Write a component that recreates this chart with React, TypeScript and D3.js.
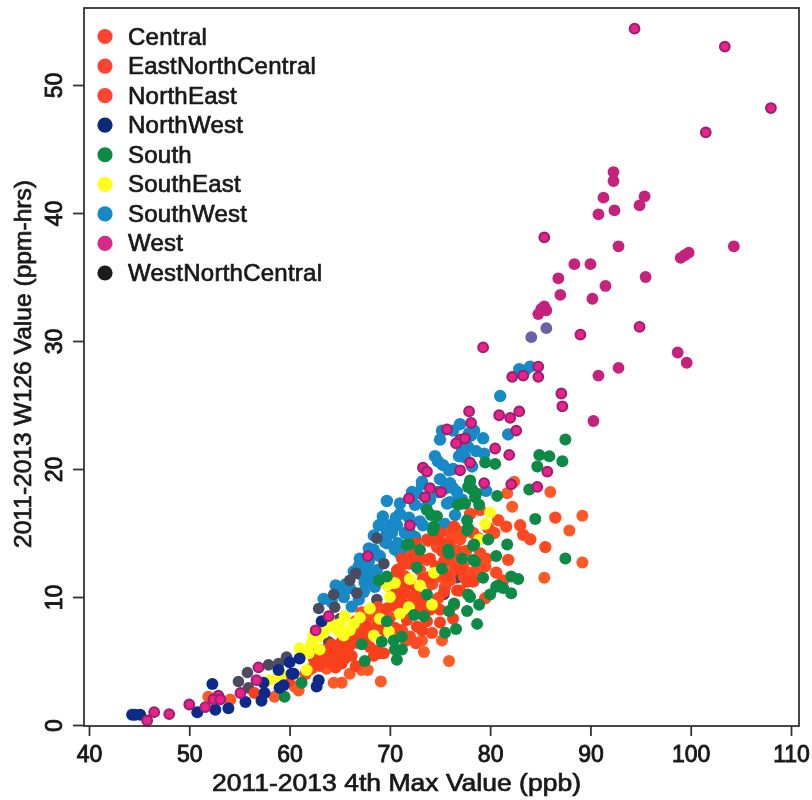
import React, { useEffect, useRef } from 'react';
import { select, scaleLinear, scalePoint, axisBottom, axisLeft } from 'd3';

type Pt = [number, number];

const legendNames = ['Central', 'EastNorthCentral', 'NorthEast', 'NorthWest', 'South', 'SouthEast', 'SouthWest', 'West', 'WestNorthCentral'];
const legendColors = ['#ff4530', '#ff4530', '#ff4530', '#0b2a78', '#0f8a45', '#ffff1e', '#1489c6', '#d92a8c', '#1c1c1c'];
const xTicks = [40, 50, 60, 70, 80, 90, 100, 110];
const yTicks = [0, 10, 20, 30, 40, 50];

const central: Pt[] = [
  [89.2, 16.35], [89.2, 12.7], [87.9, 15.2], [86.0, 18.2], [85.4, 11.5], [82.4, 19.0], [81.7, 18.1], [82.2, 17.05],
  [69.1, 3.4], [75.9, 5.0], [73.4, 5.7], [75.2, 6.6], [73.2, 6.6], [51.9, 2.2], [54.1, 2.0], [60.9, 2.7], [60.5, 3.0], [58.5, 2.2],
  [64.4, 3.3], [65.2, 3.3], [67.2, 4.3], [67.8, 4.3], [66.0, 4.0], [63.7, 4.4],
];
const eastNorthCentral: Pt[] = [
  [62.7, 5.6], [63.4, 5.1], [64.5, 5.2], [65.0, 5.7], [65.7, 5.9], [65.2, 4.8], [69.0, 5.6], [69.4, 5.6], [66.5, 6.9], [67.2, 7.0],
  [68.0, 6.1], [68.7, 5.8], [65.7, 6.6], [64.7, 6.1], [64.0, 5.6], [69.7, 9.1], [70.5, 9.3], [71.5, 10.3], [71.0, 10.8], [72.4, 9.9],
  [72.9, 10.0], [70.7, 12.1], [71.4, 12.6], [72.4, 13.3], [73.7, 14.5], [75.0, 15.0], [76.4, 15.5], [74.0, 13.0], [75.7, 11.6],
  [77.0, 12.1], [77.7, 11.2], [78.4, 11.3], [76.7, 10.5], [75.0, 9.0], [73.7, 8.1], [72.7, 7.7], [73.2, 7.4], [69.4, 7.4], [68.7, 7.7],
  [67.7, 7.7], [70.5, 7.6], [71.7, 8.2], [73.0, 9.2], [76.3, 8.3], [75.0, 8.0], [75.4, 10.4], [59.9, 3.4], [56.5, 2.5],
  [62.4, 5.2], [63.0, 4.6], [63.9, 4.9], [64.6, 4.5], [65.5, 5.2], [66.2, 5.4], [64.2, 6.3], [65.2, 6.5], [66.0, 6.2], [63.6, 5.9],
  [66.8, 6.4], [67.5, 6.6], [68.4, 5.4], [66.6, 4.6], [70.2, 10.2], [70.8, 9.8], [71.4, 9.4], [72.2, 9.0], [72.7, 8.8], [73.5, 9.6],
  [74.0, 9.0], [71.0, 11.4], [71.8, 11.0], [72.5, 10.8], [73.3, 11.4], [74.0, 11.6], [74.6, 12.4], [75.4, 12.8], [73.0, 13.0],
  [74.5, 14.6], [75.4, 14.2], [76.0, 14.0], [75.2, 13.6], [72.0, 12.6], [71.2, 13.0], [72.6, 14.2],
];
const northEast: Pt[] = [
  [78.0, 16.5], [79.0, 16.8], [80.8, 16.0], [81.6, 15.5], [83.0, 15.6], [83.3, 14.85], [84.0, 14.5], [76.7, 15.2], [76.0, 15.0], [78.3, 15.0],
  [77.0, 14.5], [79.0, 13.4], [76.3, 12.6], [77.3, 12.4], [78.2, 11.9], [79.5, 12.4], [80.6, 11.9], [81.3, 11.3], [78.3, 11.2], [76.0, 11.8],
  [75.5, 10.8], [77.0, 10.5], [79.5, 9.9], [81.8, 12.9], [85.5, 13.9], [86.5, 16.2], [73.8, 14.4], [74.7, 13.9], [72.2, 13.3], [71.0, 12.2],
  [70.5, 11.6], [71.5, 11.6], [73.7, 12.9], [76.3, 14.7], [77.3, 15.0], [76.5, 12.9], [75.0, 11.6], [73.0, 12.1], [76.0, 11.3], [71.0, 10.3], [72.2, 10.0],
  [74.2, 11.0], [70.0, 8.4], [71.2, 7.4], [72.0, 6.9], [74.2, 7.2], [68.2, 8.5], [67.2, 8.8], [66.6, 8.1], [61.6, 4.0], [62.2, 4.4],
  [79.8, 15.4], [80.4, 15.0], [78.8, 14.6], [79.6, 13.0], [78.8, 12.2], [77.6, 13.6], [76.8, 13.6], [77.4, 11.6], [76.4, 9.4], [74.8, 9.9],
  [70.2, 9.8], [69.2, 8.8], [68.8, 9.2], [67.6, 8.4], [72.6, 6.4], [71.6, 6.6], [70.6, 7.0], [68.0, 7.4], [67.0, 7.6],
];
const northWest: Pt[] = [
  [44.3, 0.8], [44.6, 0.8], [45.1, 0.8], [50.8, 1.0], [52.3, 3.2], [52.6, 1.2], [53.9, 1.3], [55.6, 1.8], [57.2, 1.9], [57.5, 2.5], [57.4, 3.3],
  [59.0, 2.9], [58.9, 4.3], [60.2, 4.0], [60.0, 4.9], [61.0, 5.2], [62.9, 3.5], [62.7, 3.0], [63.2, 8.1], [60.4, 4.0], [59.4, 3.1],
];
const south: Pt[] = [
  [87.5, 22.3], [84.9, 21.1], [85.9, 21.0], [87.2, 20.6], [84.7, 20.2], [79.5, 20.5], [80.5, 20.4], [83.9, 18.4], [80.7, 17.9], [84.5, 16.1],
  [81.7, 14.1], [87.5, 13.0], [80.6, 13.2], [82.8, 11.4], [82.1, 11.6], [77.8, 15.4], [79.8, 14.5], [78.3, 14.0], [78.3, 12.9], [79.3, 11.5],
  [80.6, 10.8], [78.0, 19.1], [78.5, 17.8], [77.3, 17.3], [80.8, 10.9], [81.3, 10.7], [82.1, 10.3], [77.8, 10.2], [80.0, 10.2], [75.8, 13.7], [77.2, 13.0],
  [59.5, 2.2], [61.2, 3.3], [67.2, 6.3], [67.5, 5.0], [69.2, 6.5], [70.4, 6.6], [71.2, 6.9], [70.5, 5.9], [71.2, 5.9], [70.7, 5.1], [69.7, 8.1],
  [73.7, 10.2], [71.9, 14.1], [72.7, 12.3], [73.0, 13.7], [75.2, 12.2], [75.9, 13.4], [78.0, 10.0], [78.4, 14.1], [77.7, 15.2], [74.4, 15.5],
  [76.4, 9.5], [75.9, 8.9], [73.4, 8.5], [72.4, 8.6], [75.5, 7.2], [76.6, 7.5], [77.7, 8.9], [78.7, 7.9], [69.7, 11.6], [68.9, 11.3], [78.5, 12.8],
  [73.7, 16.8], [74.7, 16.3], [74.3, 15.2], [71.7, 14.1], [76.8, 17.2], [77.7, 16.0], [78.6, 18.1], [78.0, 19.0], [77.5, 17.3],
  [78.2, 18.4], [78.9, 17.2], [77.8, 18.6], [74.1, 16.4], [78.9, 9.4],
];
const southEast: Pt[] = [
  [62.2, 6.4], [61.9, 5.6], [59.2, 3.9], [61.7, 4.3], [64.2, 7.7], [65.5, 8.5], [66.4, 7.9], [65.4, 7.0], [68.0, 9.1], [69.0, 8.3], [69.9, 7.3],
  [68.4, 7.0], [70.0, 10.0], [69.7, 10.9], [70.5, 11.1], [72.0, 11.4], [73.0, 10.9], [74.4, 11.9], [71.9, 9.2], [71.0, 8.7], [74.2, 9.4],
  [78.9, 14.5], [63.0, 5.9], [64.9, 7.3], [59.0, 3.8], [58.0, 3.5], [62.9, 6.9], [61.5, 5.8], [80.0, 16.6], [79.5, 15.7],
  [63.4, 7.2], [64.0, 8.1], [62.4, 7.0], [65.0, 7.9], [66.0, 7.4], [67.0, 8.4], [61.0, 6.0],
];
const southWest: Pt[] = [
  [82.9, 27.8], [84.0, 28.0], [83.5, 27.7], [81.0, 25.7], [81.8, 22.7], [79.3, 22.4], [79.4, 21.2], [79.6, 18.3],
  [77.0, 23.5], [75.0, 22.3], [75.2, 23.0], [78.1, 22.6], [77.8, 21.7], [77.5, 20.9], [74.5, 21.0], [75.3, 20.3], [76.3, 20.0], [75.0, 19.2],
  [76.0, 18.9], [73.2, 19.0], [72.2, 18.2], [72.7, 18.1], [72.5, 17.2], [69.7, 17.5], [71.0, 17.3], [71.0, 16.5], [76.7, 18.2], [76.0, 17.4],
  [76.8, 17.6], [70.0, 15.6], [70.7, 15.6], [75.5, 15.7], [76.5, 16.4], [73.3, 15.6], [70.2, 15.0], [68.4, 14.8], [68.4, 13.7], [69.5, 14.3],
  [71.2, 13.5], [72.5, 14.6], [73.0, 15.9], [75.7, 17.3], [76.3, 18.5], [77.2, 17.6], [72.5, 18.1], [73.2, 18.8], [78.2, 20.2], [78.6, 21.4],
  [63.4, 9.85], [66.0, 10.7], [65.4, 10.0], [66.9, 9.8], [66.2, 9.25], [66.9, 12.4], [67.7, 12.1], [68.7, 12.1], [67.5, 11.1], [68.5, 10.8],
  [67.9, 13.8], [68.7, 13.3], [69.7, 14.2], [70.5, 13.7], [71.0, 13.4], [72.5, 14.7], [69.7, 15.0], [64.2, 9.6],
  [68.9, 15.6], [69.3, 16.3], [70.6, 16.2], [71.5, 15.0], [71.9, 16.2], [72.0, 15.0], [70.8, 14.2], [69.0, 13.2], [67.0, 13.0], [66.4, 12.0],
  [67.2, 11.7], [65.6, 11.0], [65.0, 10.7], [64.6, 10.9], [73.6, 17.0], [74.0, 17.6], [74.8, 18.2], [75.6, 18.5], [75.9, 19.9], [74.8, 20.6],
  [77.2, 21.4], [77.9, 22.8], [76.3, 23.0], [76.9, 21.0], [78.4, 23.0], [67.4, 10.4], [67.9, 12.8], [68.2, 11.6],
];
const west: Pt[] = [
  [92.3, 43.2], [92.3, 42.5], [91.3, 41.2], [92.4, 40.2], [90.8, 39.9], [95.4, 41.3], [94.9, 40.6], [92.8, 37.4], [104.3, 37.4], [99.8, 36.9],
  [99.4, 36.7], [99.0, 36.5], [88.4, 36.0], [90.0, 36.0], [86.8, 34.9], [95.5, 35.0], [91.5, 34.3], [87.0, 33.6], [90.2, 33.3], [85.4, 32.7],
  [85.6, 32.4], [84.8, 32.1], [85.1, 32.5], [98.7, 29.1], [99.6, 28.3], [92.8, 27.9], [90.8, 27.3], [90.3, 23.75],
];
const westRinged: Pt[] = [
  [94.4, 54.4], [103.4, 53.0], [108.0, 48.2], [101.5, 46.3], [85.4, 38.1], [89.0, 30.5], [94.9, 31.1], [79.3, 29.5], [87.1, 25.9], [87.2, 24.9],
  [84.8, 28.0], [84.8, 27.2], [82.2, 27.2], [83.3, 27.3], [77.9, 24.5], [78.1, 23.6], [80.9, 24.2], [82.0, 24.0], [82.9, 24.5], [82.6, 23.0],
  [80.5, 21.6], [81.9, 21.1], [78.0, 20.5], [85.7, 19.8], [79.4, 18.9], [82.1, 18.8], [84.7, 18.6], [75.7, 23.1], [77.0, 22.3], [76.6, 22.0],
  [77.5, 22.4], [77.0, 19.9], [73.3, 20.1], [73.7, 19.8], [74.0, 18.5], [75.1, 18.2], [71.9, 17.7], [73.5, 17.8], [72.0, 15.6], [67.8, 13.2],
  [45.8, 0.35], [46.5, 1.0], [48.0, 0.85], [50.0, 1.6], [52.9, 2.3], [52.4, 2.0], [53.1, 2.0], [51.6, 1.4], [56.9, 4.5], [55.1, 2.5], [56.7, 3.5],
  [62.6, 7.4], [63.9, 8.5],
];
const westNorthCentral: Pt[] = [
  [54.9, 3.4], [55.8, 4.1], [55.9, 2.9], [57.9, 4.7], [58.9, 4.8], [59.7, 5.2], [59.7, 5.3], [62.9, 9.1], [64.4, 10.2], [64.5, 9.2], [66.0, 11.3],
  [66.6, 11.85], [66.7, 10.3], [68.5, 9.1], [68.7, 9.8], [65.0, 8.3], [63.9, 6.5], [75.4, 10.2], [76.7, 11.5], [69.4, 12.6], [68.7, 14.6],
];
// the two faded blue points by the West cluster
const fadedBlue: Pt[] = [[84.1, 30.3], [85.6, 31.0]];

export default function App() {
  const ref = useRef<SVGSVGElement | null>(null);

  useEffect(() => {
    const svg = select(ref.current);
    svg.selectAll('*').remove();

    const x = scaleLinear().domain([40, 110]).range([89, 791]);
    const y = scaleLinear().domain([0, 50]).range([725, 85]);
    const legendY = scalePoint<string>().domain(legendNames).range([36.5, 273]);

    svg.append('defs').append('filter').attr('id', 'soft')
      .append('feGaussianBlur').attr('stdDeviation', 0.5);

    const root = svg.append('g').attr('filter', 'url(#soft)');
    const font = '"Liberation Sans", Arial, sans-serif';

    const groups: [Pt[], string, string, number][] = [
      [southWest, '#1489c6', 'none', 6.2],
      [westNorthCentral, '#4c4c60', 'none', 5.8],
      [central, '#ff5a28', 'none', 6],
      [northEast, '#ff4a22', 'none', 6.2],
      [eastNorthCentral, '#f8401f', 'none', 6],
      [southEast, '#ffff1e', 'none', 6],
      [south, '#0f8a45', 'none', 6],
      [northWest, '#0b2a88', 'none', 6],
      [west, '#c4237c', 'none', 5.9],
      [westRinged, '#e8208a', '#96206f', 4.9],
      [fadedBlue, '#6a62a8', 'none', 5.9],
    ];
    groups.forEach(([pts, fill, stroke, r]) => {
      root.append('g').selectAll('circle').data(pts).join('circle')
        .attr('cx', d => x(d[0]))
        .attr('cy', d => y(d[1]))
        .attr('r', r)
        .attr('fill', fill)
        .attr('stroke', stroke)
        .attr('stroke-width', stroke === 'none' ? 0 : 2);
    });

    // frame
    root.append('rect').attr('x', 84).attr('y', 8).attr('width', 715).attr('height', 718)
      .attr('fill', 'none').attr('stroke', '#333').attr('stroke-width', 1.8);

    const gx = root.append('g').attr('transform', 'translate(0,726)')
      .call(axisBottom(x).tickValues(xTicks).tickSize(10).tickPadding(10));
    gx.select('.domain').remove();
    gx.selectAll('line').attr('stroke', '#333').attr('stroke-width', 1.8);
    gx.selectAll('text').attr('font-family', font).attr('font-size', 23).attr('fill', '#1a1a1a')
      .attr('stroke', '#1a1a1a').attr('stroke-width', 0.9);

    const gy = root.append('g').attr('transform', 'translate(84,0)')
      .call(axisLeft(y).tickValues(yTicks).tickSize(11).tickPadding(0));
    gy.select('.domain').remove();
    gy.selectAll('line').attr('stroke', '#333').attr('stroke-width', 1.8);
    gy.selectAll('text')
      .attr('font-family', font).attr('font-size', 23).attr('fill', '#1a1a1a')
      .attr('stroke', '#1a1a1a').attr('stroke-width', 0.9)
      .attr('text-anchor', 'middle').attr('dy', 0).attr('x', 0).attr('y', 0)
      .attr('transform', 'translate(-22,0) rotate(-90)');

    root.append('text').attr('x', 396.5).attr('y', 791).attr('text-anchor', 'middle')
      .attr('font-family', font).attr('font-size', 23.5).attr('fill', '#1a1a1a')
      .attr('stroke', '#1a1a1a').attr('stroke-width', 0.7)
      .attr('textLength', 369).attr('lengthAdjust', 'spacingAndGlyphs')
      .text('2011-2013 4th Max Value (ppb)');
    root.append('text').attr('transform', 'translate(31,364) rotate(-90)').attr('text-anchor', 'middle')
      .attr('font-family', font).attr('font-size', 24).attr('fill', '#1a1a1a')
      .attr('stroke', '#1a1a1a').attr('stroke-width', 0.7)
      .attr('textLength', 368).attr('lengthAdjust', 'spacingAndGlyphs')
      .text('2011-2013 W126 Value (ppm-hrs)');

    const legend = root.append('g').selectAll('g').data(legendNames).join('g')
      .attr('transform', d => `translate(0,${legendY(d)})`);
    legend.append('circle').attr('cx', 105).attr('r', 7.6)
      .attr('fill', (_, i) => legendColors[i]);
    legend.append('text').attr('x', 128).attr('dy', 8)
      .attr('font-family', font).attr('font-size', 24).attr('fill', '#1a1a1a')
      .attr('stroke', '#1a1a1a').attr('stroke-width', 0.7)
      .attr('letter-spacing', 0.25)
      .text(d => d);
  }, []);

  return <svg ref={ref} width={812} height={800} style={{ position: 'absolute', left: 0, top: 0, background: '#fff' }} />;
}
